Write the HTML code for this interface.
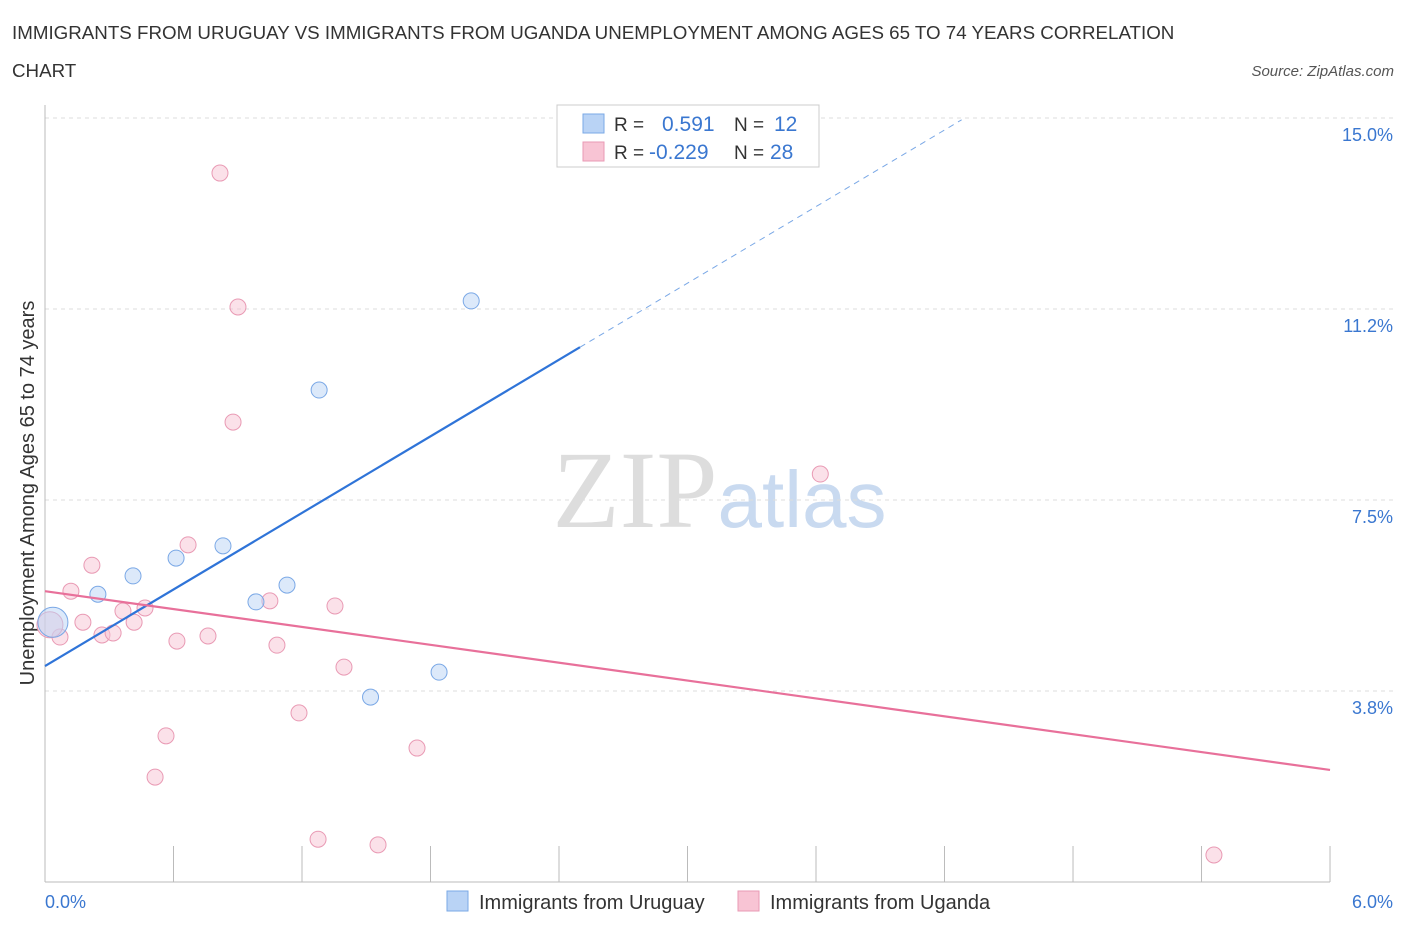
<!DOCTYPE html>
<html><head><meta charset="utf-8"><style>
body{margin:0;background:#fff;font-family:"Liberation Sans",sans-serif;}
</style></head><body>
<svg id="c" width="1406" height="930" xmlns="http://www.w3.org/2000/svg">
<text x="12" y="39" font-size="18.75" fill="#333">IMMIGRANTS FROM URUGUAY VS IMMIGRANTS FROM UGANDA UNEMPLOYMENT AMONG AGES 65 TO 74 YEARS CORRELATION</text>
<text x="12" y="77" font-size="18.75" fill="#333">CHART</text>
<text x="1394" y="76" font-size="15" fill="#555" font-style="italic" text-anchor="end">Source: ZipAtlas.com</text>
<text x="34" y="493" font-size="20" fill="#333" text-anchor="middle" transform="rotate(-90 34 493)">Unemployment Among Ages 65 to 74 years</text>
<text x="635" y="527" font-size="110" fill="#ddd" font-family="Liberation Serif,serif" text-anchor="middle">ZIP</text>
<text x="802" y="527" font-size="80" fill="#c9daf0" text-anchor="middle">atlas</text>
<g id="grid"></g><g id="marks"></g>
<rect x="557" y="105" width="262" height="62" fill="#fff" stroke="#ccc"/>
<rect x="583" y="114" width="21" height="19" fill="#b9d3f5" stroke="#7aa8e6"/>
<rect x="583" y="142" width="21" height="19" fill="#f8c4d4" stroke="#e99ab4"/>
<text x="614" y="131" font-size="19" fill="#333">R =</text>
<text x="662" y="131" font-size="21" fill="#3a77d0">0.591</text>
<text x="734" y="131" font-size="19" fill="#333">N =</text>
<text x="774" y="131" font-size="21" fill="#3a77d0">12</text>
<text x="614" y="159" font-size="19" fill="#333">R =</text>
<text x="649" y="159" font-size="21" fill="#3a77d0">-0.229</text>
<text x="734" y="159" font-size="19" fill="#333">N =</text>
<text x="770" y="159" font-size="21" fill="#3a77d0">28</text>
<rect x="447" y="891" width="21" height="20" fill="#b9d3f5" stroke="#7aa8e6"/>
<text x="479" y="909" font-size="20" fill="#333">Immigrants from Uruguay</text>
<rect x="738" y="891" width="21" height="20" fill="#f8c4d4" stroke="#e99ab4"/>
<text x="770" y="909" font-size="20" fill="#333">Immigrants from Uganda</text>
<text x="45" y="908" font-size="18" fill="#3a77d0">0.0%</text>
<text x="1393" y="908" font-size="18" fill="#3a77d0" text-anchor="end">6.0%</text>
</svg>
<script>
const yTicks=[3.75,7.5,11.25,15];
const yTickLabels=["3.8%","7.5%","11.2%","15.0%"];
const uruX=[0.037,0.247,0.411,0.612,0.831,0.985,1.13,1.28,1.52,1.84,1.99,2.46];
const uruY=[5.10,5.65,6.01,6.36,6.60,5.50,5.83,9.66,3.63,4.12,11.41,14.31];
const ugaX=[0.817,0.901,0.878,3.62,0.668,0.219,0.121,0.467,0.364,1.354,1.05,0.177,0.416,0.266,0.318,0.070,0.616,0.761,1.083,1.396,1.186,0.565,1.737,0.514,1.275,1.555,5.458,0.023];
const ugaY=[13.92,11.29,9.03,8.01,6.62,6.22,5.71,5.38,5.32,5.42,5.52,5.10,5.10,4.85,4.89,4.81,4.73,4.83,4.65,4.22,3.32,2.87,2.63,2.06,0.84,0.73,0.53,5.05];
const uruTrend=[4.24,2.506];
const ugaTrend=[5.71,-0.585];
const NS="http://www.w3.org/2000/svg";
const X=v=>45+v*214.17, Y=v=>882-v*50.93;
function mk(t,a,p){const e=document.createElementNS(NS,t);for(const k in a)e.setAttribute(k,a[k]);p.appendChild(e);return e;}
const g=document.getElementById('grid'),m=document.getElementById('marks');
yTicks.forEach((v,i)=>{
 const l=mk('line',{x1:45,x2:1395,y1:Y(v),y2:Y(v),stroke:'#ddd','stroke-dasharray':'4,4'},g);
 
 
 const t=mk('text',{x:1393,y:Y(v)+23,'font-size':18,fill:'#3a77d0','text-anchor':'end'},g);
 t.textContent=yTickLabels[i];
 
 
});
const ax=mk('line',{x1:45,x2:1330,y1:882,y2:882,stroke:'#bbb'},g);


const ay=mk('line',{x1:45,x2:45,y1:105,y2:882,stroke:'#bbb'},g);


for(let i=1;i<=10;i++){const tk=mk('line',{x1:X(i*0.6),x2:X(i*0.6),y1:846,y2:882,stroke:'#bbb'},g);
 
 }
function pt(x,y,f,s,r,n){const c=mk('circle',{cx:X(x),cy:Y(y),r:r,fill:f,stroke:s,'stroke-width':1,'fill-opacity':0.5},m);
 
 }
ugaX.forEach((x,i)=>pt(x,ugaY[i],'#f8c4d4','#e99ab4',i==ugaX.length-1?13:8,'uganda-point'));
uruX.forEach((x,i)=>pt(x,uruY[i],'#b9d3f5','#7aa8e6',i==0?15:8,'uruguay-point'));
const b=mk('line',{x1:X(0),y1:Y(uruTrend[0]),x2:X(2.498),y2:Y(uruTrend[0]+uruTrend[1]*2.498),stroke:'#2f74d8','stroke-width':2.2},m);


const bd=mk('line',{x1:X(2.498),y1:Y(uruTrend[0]+uruTrend[1]*2.498),x2:X(4.28),y2:Y(uruTrend[0]+uruTrend[1]*4.28),stroke:'#7aa8e6','stroke-width':1,'stroke-dasharray':'6,5'},m);


const p=mk('line',{x1:X(0),y1:Y(ugaTrend[0]),x2:X(6),y2:Y(ugaTrend[0]+ugaTrend[1]*6),stroke:'#e8709a','stroke-width':2.2},m);


</script>
</body></html>
